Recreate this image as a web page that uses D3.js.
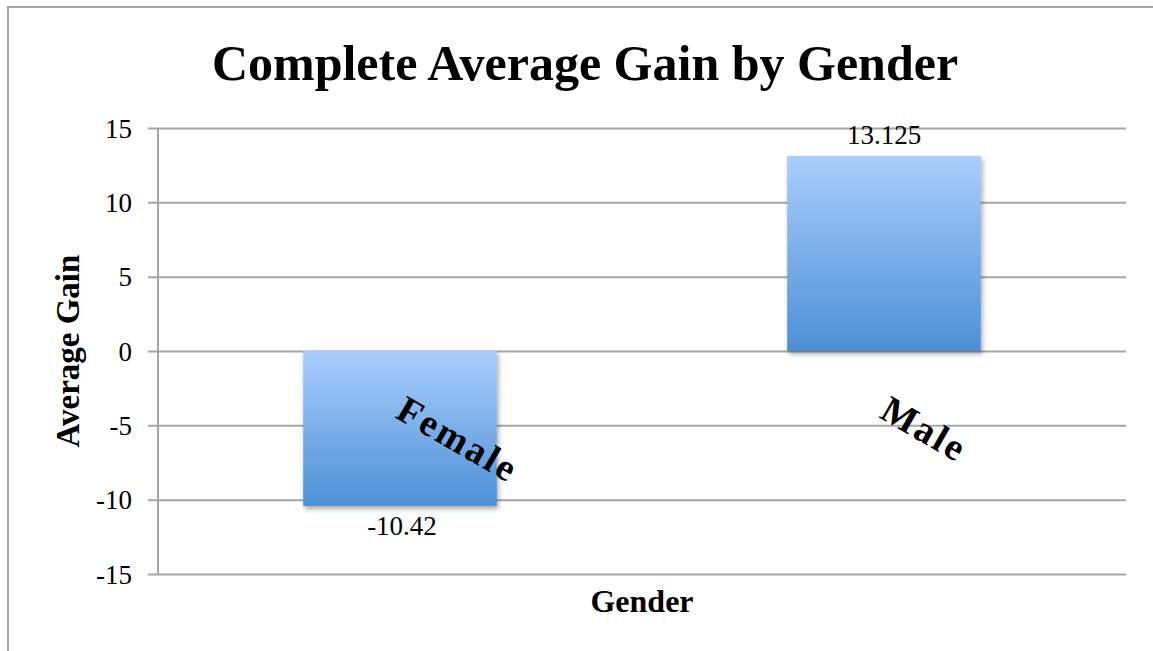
<!DOCTYPE html>
<html>
<head>
<meta charset="utf-8">
<script src="https://cdn.jsdelivr.net/npm/d3@7/dist/d3.min.js"></script>
<style>
  html, body { margin: 0; padding: 0; background: #fff; }
  svg { display: block; }
  svg text { font-family: "Liberation Serif", "Times New Roman", "DejaVu Serif", serif; fill: #000; }
</style>
</head>
<body>
<svg id="chart" width="1153" height="651"></svg>
<script>
var categories = ['Female', 'Male'];
var values = [-10.42, 13.125];
var valueLabels = ['-10.42', '13.125'];
var yTicks = [-15, -10, -5, 0, 5, 10, 15];

(function() {
  'use strict';

  var W = 1153,
    H = 651,
    m = {top: 128, right: 27, bottom: 77, left: 158},
    gridColor = '#a6a6a6',
    serif = '"Liberation Serif", "Times New Roman", "DejaVu Serif", serif';

  var svg = d3.select('#chart');

  // gradient + shadow for the bars
  var defs = svg.append('defs');
  var grad = defs.append('linearGradient')
    .attr('id', 'barGrad')
    .attr('x1', 0).attr('y1', 0)
    .attr('x2', 0).attr('y2', 1);
  grad.append('stop').attr('offset', '0%').attr('stop-color', '#aacefd');
  grad.append('stop').attr('offset', '100%').attr('stop-color', '#4d90d6');

  defs.append('filter')
    .attr('id', 'shadow')
    .attr('x', '-10%').attr('y', '-10%')
    .attr('width', '130%').attr('height', '130%')
    .append('feDropShadow')
    .attr('dx', 1.5).attr('dy', 3)
    .attr('stdDeviation', 2.5)
    .attr('flood-color', '#000')
    .attr('flood-opacity', 0.35);

  // outer frame (top + left only are visible)
  svg.append('path')
    .attr('d', 'M8,' + H + 'V7H' + W)
    .attr('fill', 'none')
    .attr('stroke', gridColor)
    .attr('stroke-width', 2);

  var x = d3.scaleBand()
    .domain(categories)
    .range([m.left, W - m.right])
    .paddingInner(0.6)
    .paddingOuter(0.3);

  var y = d3.scaleLinear()
    .domain([d3.min(yTicks), d3.max(yTicks)])
    .range([H - m.bottom, m.top]);

  // gridlines + tick marks
  var yAxis = d3.axisLeft(y)
    .tickValues(yTicks)
    .tickSize(-(W - m.right - m.left))
    .tickFormat('');

  var gAxis = svg.append('g')
    .attr('transform', 'translate(' + m.left + ',0)')
    .call(yAxis);
  gAxis.select('.domain').remove();
  gAxis.selectAll('.tick line')
    .attr('x1', -10)
    .attr('stroke', gridColor)
    .attr('stroke-width', 2);

  svg.append('line')
    .attr('x1', m.left).attr('x2', m.left)
    .attr('y1', y(d3.max(yTicks))).attr('y2', y(d3.min(yTicks)))
    .attr('stroke', gridColor)
    .attr('stroke-width', 2);

  // tick labels
  svg.append('g').selectAll('text')
    .data(yTicks)
    .enter().append('text')
    .attr('x', 132)
    .attr('y', function(d) { return y(d); })
    .attr('dy', '0.36em')
    .attr('text-anchor', 'end')
    .attr('font-family', serif)
    .attr('font-size', 27)
    .text(function(d) { return d; });

  // bars
  svg.append('g').selectAll('rect')
    .data(values)
    .enter().append('rect')
    .attr('x', function(d, i) { return x(categories[i]); })
    .attr('y', function(d) { return y(Math.max(0, d)); })
    .attr('width', x.bandwidth())
    .attr('height', function(d) { return Math.abs(y(d) - y(0)); })
    .attr('fill', 'url(#barGrad)')
    .attr('filter', 'url(#shadow)');

  // data labels
  svg.append('g').selectAll('text')
    .data(values)
    .enter().append('text')
    .attr('x', function(d, i) { return x(categories[i]) + x.bandwidth() / 2 + (d < 0 ? 2 : 0); })
    .attr('y', function(d) { return d < 0 ? y(d) + 29 : y(d) - 12; })
    .attr('text-anchor', 'middle')
    .attr('font-family', serif)
    .attr('font-size', 27)
    .text(function(d, i) { return valueLabels[i]; });

  // rotated category labels
  svg.append('g').selectAll('text')
    .data(categories)
    .enter().append('text')
    .attr('transform', function(d) {
      return 'translate(' + (x(d) + x.bandwidth() / 2 - 6) + ',' + (y(0) + 66) + ') rotate(30)';
    })
    .attr('font-family', serif)
    .attr('font-size', 38)
    .attr('font-weight', 'bold')
    .style('letter-spacing', '2.5px')
    .text(function(d) { return d; });

  // title
  svg.append('text')
    .attr('x', 585)
    .attr('y', 80)
    .attr('text-anchor', 'middle')
    .attr('font-family', serif)
    .attr('font-size', 50)
    .attr('font-weight', 'bold')
    .text('Complete Average Gain by Gender');

  // axis titles
  svg.append('text')
    .attr('transform', 'translate(79,' + y(0) + ') rotate(-90)')
    .attr('text-anchor', 'middle')
    .attr('font-family', serif)
    .attr('font-size', 33)
    .attr('font-weight', 'bold')
    .text('Average Gain');

  svg.append('text')
    .attr('x', (m.left + W - m.right) / 2)
    .attr('y', 612)
    .attr('text-anchor', 'middle')
    .attr('font-family', serif)
    .attr('font-size', 32)
    .attr('font-weight', 'bold')
    .text('Gender');
})();
</script>
</body>
</html>
